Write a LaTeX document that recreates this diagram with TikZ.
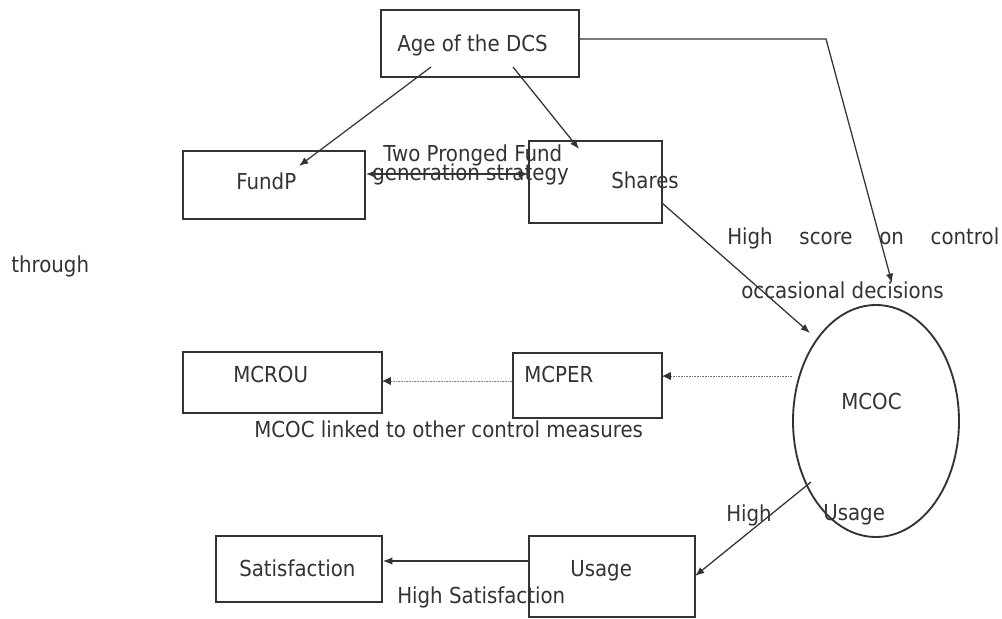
\documentclass[tikz,border=0pt]{standalone}
\usepackage{fontspec}
\setmainfont{DejaVu Sans}[FakeStretch=0.9]
\usetikzlibrary{arrows.meta,fit,shapes.geometric}
\definecolor{ink}{HTML}{333333}
\definecolor{dotc}{HTML}{777777}
\begin{document}
\begin{tikzpicture}[x=0.75pt,y=-0.75pt,
  font=\fontsize{16.5pt}{20pt}\selectfont,
  box/.style={draw=ink,line width=1.4pt,inner sep=0pt,fit={#1}},
  lbl/.style={anchor=base west,inner sep=0pt,text=ink},
  conn/.style={draw=ink,line width=0.95pt,-{Latex[length=7pt,width=5.5pt]}},
  dline/.style={draw=dotc,line width=0.7pt,dash pattern=on 0.6pt off 0.6pt}
]
\useasboundingbox (0,0) rectangle (1002,618);
% boxes
\node[box={(381,10) (579,77)}] (age) {};
\node[box={(183,151) (365,219)}] (fundp) {};
\node[box={(529,141) (662,223)}] (shares) {};
\node[box={(183,352) (382,413)}] (mcrou) {};
\node[box={(513,353) (662,418)}] (mcper) {};
\node[box={(216,536) (382,602)}] (sat) {};
\node[box={(529,536) (695,617)}] (usage) {};
\node[draw=ink,line width=1.4pt,ellipse,inner sep=0pt,minimum width=124.5pt,minimum height=174pt] (mcoc) at (876,421) {};
% texts
\node[lbl] (agetxt) at (397,51) {Age of the DCS};
\node[lbl] (fundptxt) at (236,189) {FundP};
\node[lbl] (sharestxt) at (611,188) {Shares};
\node[lbl] (two1) at (383,161) {Two Pronged Fund};
\node[lbl] (two2) at (372,180) {generation strategy};
\node[lbl] (through) at (11,272) {through};
\node[lbl] (hsc) at (727,244) {\makebox[204pt][s]{High score on control}};
\node[lbl] (occ) at (741,298) {occasional decisions};
\node[lbl] (mcoctxt) at (841,409) {MCOC};
\node[lbl] (mcroutxt) at (233,382) {MCROU};
\node[lbl] (mcpertxt) at (524,382) {MCPER};
\node[lbl] (linked) at (254,437) {MCOC linked to other control measures};
\node[lbl] (high) at (726,521) {High};
\node[lbl] (usage2) at (823,520) {Usage};
\node[lbl] (sattxt) at (239,576) {Satisfaction};
\node[lbl] (usagetxt) at (570,576) {Usage};
\node[lbl] (highsat) at (397,603) {High Satisfaction};
% connector points
\coordinate (a1) at (431,67);
\coordinate (f1) at (299,166);
\coordinate (a2) at (513,67);
\coordinate (s1) at (579,149);
\coordinate (bend) at (826,39);
\coordinate (m1) at (892,283);
\coordinate (s2) at (662,203);
\coordinate (m2) at (810,333);
\coordinate (m3) at (811,482);
\coordinate (u1) at (695,576);
% connectors
\draw[conn] (a1) -- (f1);
\draw[conn] (a2) -- (s1);
\draw[conn] (age.east |- bend) -- (bend) -- (m1);
\draw[draw=ink,line width=0.95pt,{Latex[length=7pt,width=5.5pt]}-{Latex[length=7pt,width=5.5pt]}] (fundp.east |- 0,174) -- (shares.west |- 0,174);
\draw[conn] (s2) -- (m2);
\draw[conn] (m3) -- (u1);
\draw[conn] (usage.west |- 0,561) -- (sat.east |- 0,561);
\draw[dline] (mcoc.west |- 0,376) -- (mcper.east |- 0,376);
\draw[dline] (mcper.west |- 0,381) -- (mcrou.east |- 0,381);
\fill[ink] (mcper.east |- 0,376) -- ++(8,-4) -- ++(0,8) -- cycle;
\fill[ink] (mcrou.east |- 0,381) -- ++(8,-4) -- ++(0,8) -- cycle;
\end{tikzpicture}
\end{document}
